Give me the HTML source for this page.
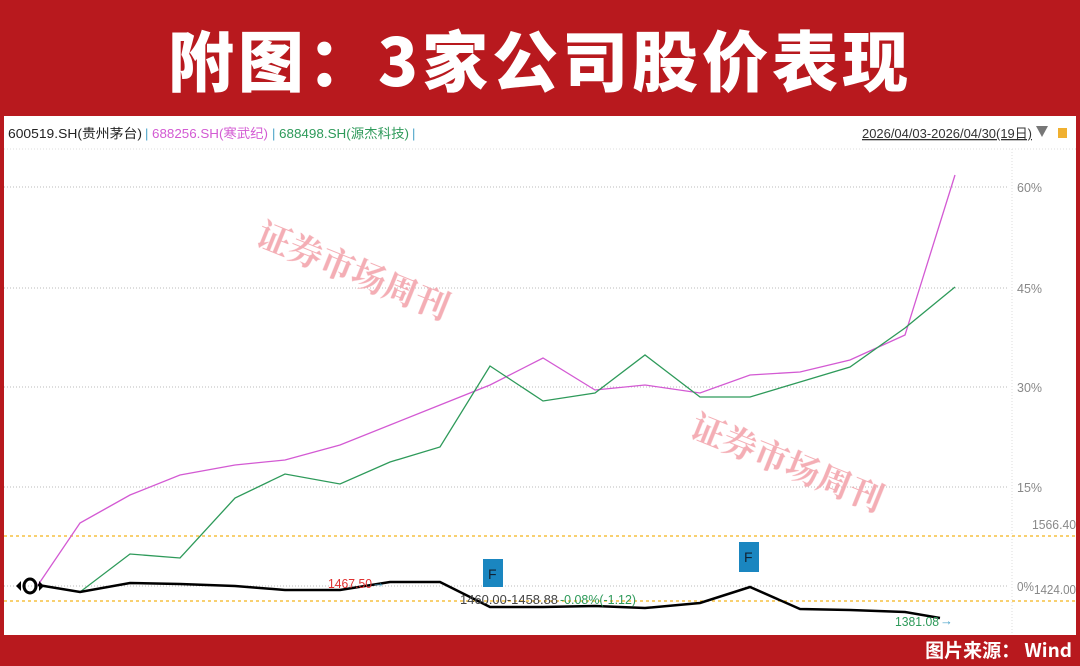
<!DOCTYPE html>
<html><head><meta charset="utf-8"><style>
html,body{margin:0;padding:0;}
body{width:1080px;height:666px;background:#b8191e;position:relative;overflow:hidden;font-family:"Liberation Sans","Noto Sans CJK SC",sans-serif;}
.title{position:absolute;left:0;top:0;width:1080px;height:116px;line-height:116px;text-align:center;color:#fff;font-size:66px;font-weight:900;font-family:"Noto Sans CJK SC",sans-serif;letter-spacing:4px;}
.chart{position:absolute;left:4px;top:116px;width:1072px;height:519px;background:#fff;}
.foot{position:absolute;right:8px;top:636px;color:#fff;font-size:19px;font-weight:bold;font-family:"Noto Sans CJK SC",sans-serif;}
</style></head><body>
<div class="title">附图：3家公司股价表现</div>
<div class="chart">
<svg width="1072" height="519" viewBox="4 116 1072 519" xmlns="http://www.w3.org/2000/svg" font-family="Liberation Sans, Noto Sans CJK SC, sans-serif">
<g font-size="13">
<text x="8" y="138" fill="#222" textLength="134" lengthAdjust="spacingAndGlyphs">600519.SH(贵州茅台)</text>
<text x="145" y="138" fill="#4aa3c8">|</text>
<text x="152" y="138" fill="#d35ad3" textLength="116" lengthAdjust="spacingAndGlyphs">688256.SH(寒武纪)</text>
<text x="272" y="138" fill="#4aa3c8">|</text>
<text x="279" y="138" fill="#2e9a5a" textLength="130" lengthAdjust="spacingAndGlyphs">688498.SH(源杰科技)</text>
<text x="412" y="138" fill="#4aa3c8">|</text>
<text x="862" y="138" fill="#333" text-decoration="underline" textLength="170" lengthAdjust="spacingAndGlyphs">2026/04/03-2026/04/30(19日)</text>
</g>
<polygon points="1036,126 1048,126 1042,137" fill="#777"/>
<rect x="1058" y="128" width="9" height="10" fill="#f0b030"/>
<line x1="4" y1="149" x2="1076" y2="149" stroke="#ddd" stroke-dasharray="1,2"/>
<line x1="1012" y1="149" x2="1012" y2="635" stroke="#ddd" stroke-dasharray="1,2"/>
<g stroke="#bbb" stroke-dasharray="1,2">
<line x1="4" y1="187" x2="1008" y2="187"/><line x1="4" y1="288" x2="1008" y2="288"/>
<line x1="4" y1="387" x2="1008" y2="387"/><line x1="4" y1="487" x2="1008" y2="487"/>
<line x1="4" y1="586" x2="1008" y2="586"/>
</g>
<g stroke="#f5c040" stroke-dasharray="3,3" stroke-width="1.5">
<line x1="4" y1="536" x2="1076" y2="536"/><line x1="4" y1="601" x2="1076" y2="601"/>
</g>
<g font-size="13" fill="#888">
<text x="1017" y="192" textLength="25" lengthAdjust="spacingAndGlyphs">60%</text><text x="1017" y="293" textLength="25" lengthAdjust="spacingAndGlyphs">45%</text>
<text x="1017" y="392" textLength="25" lengthAdjust="spacingAndGlyphs">30%</text><text x="1017" y="492" textLength="25" lengthAdjust="spacingAndGlyphs">15%</text>
<text x="1017" y="591" textLength="17" lengthAdjust="spacingAndGlyphs">0%</text><text x="1034" y="594" textLength="42" lengthAdjust="spacingAndGlyphs">1424.00</text>
<text x="1032" y="529" textLength="44" lengthAdjust="spacingAndGlyphs">1566.40</text>
</g>
<g font-size="34" fill="#f2a0a8" opacity="0.85" font-family="Noto Serif CJK SC, serif" font-weight="bold">
<text transform="translate(254,244) rotate(22)">证券市场周刊</text>
<text transform="translate(688,436) rotate(22)">证券市场周刊</text>
</g>
<polyline fill="none" stroke="#d35ad3" stroke-width="1.3" points="38,585 80,523 130,495 180,475 235,465 285,460 340,445 390,425 440,405 490,385 543,358 595,390 645,385 700,393 750,375 800,372 850,360 905,335 955,175"/>
<polyline fill="none" stroke="#2e9a5a" stroke-width="1.3" points="38,585 80,592 130,554 180,558 235,498 285,474 340,484 390,462 440,447 490,366 543,401 595,393 645,355 700,397 750,397 800,382 850,367 905,328 955,287"/>
<polyline fill="none" stroke="#000" stroke-width="2.5" points="38,585 80,592 130,583 180,584 235,586 285,590 340,590 390,582 440,582 490,607 543,607 595,606 645,608 700,603 750,587 800,609 850,610 905,612 940,618"/>
<ellipse cx="30" cy="586" rx="6" ry="7" fill="none" stroke="#000" stroke-width="3"/>
<polygon points="16,586 21,581 21,591" fill="#000"/><polygon points="44,586 39,581 39,591" fill="#000"/>
<g font-size="13">
<text x="328" y="588" fill="#e03030" textLength="44" lengthAdjust="spacingAndGlyphs">1467.50</text>
<text x="372" y="587" fill="#4aa3c8">→</text>
<text x="460" y="604" fill="#444" textLength="98" lengthAdjust="spacingAndGlyphs">1460.00-1458.88</text>
<text x="560" y="604" fill="#2e9a5a" textLength="76" lengthAdjust="spacingAndGlyphs">-0.08%(-1.12)</text>
<text x="895" y="626" fill="#2e9a5a" textLength="44" lengthAdjust="spacingAndGlyphs">1381.08</text>
<text x="940" y="625" fill="#4aa3c8">→</text>
</g>
<rect x="483" y="559" width="20" height="28" fill="#1a86c0"/>
<text x="488" y="579" font-size="14" fill="#123">F</text>
<rect x="739" y="542" width="20" height="30" fill="#1a86c0"/>
<text x="744" y="562" font-size="14" fill="#123">F</text>
</svg>
</div>
<div class="foot">图片来源： Wind</div>
</body></html>
